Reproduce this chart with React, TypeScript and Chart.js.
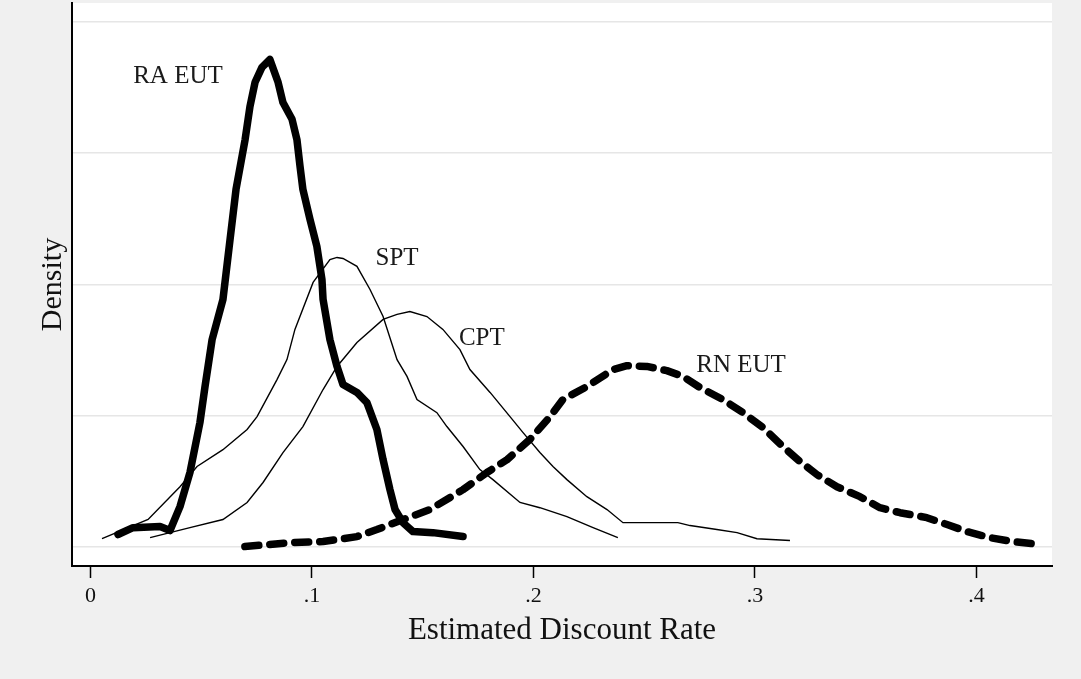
import React, { useEffect, useRef } from "react";
import { Chart, registerables } from "chart.js";

Chart.register(...registerables);

const FONT = "'Liberation Serif', 'DejaVu Serif', serif";

const xTickValues = [0, 0.1, 0.2, 0.3, 0.4];
const xTickLabels = ["0", ".1", ".2", ".3", ".4"];
const yGridValues = [0, 5, 10, 15, 20];

const raEutX = [0.0124, 0.0192, 0.0314, 0.0359, 0.0404, 0.0449, 0.0494, 0.0517, 0.0549, 0.0598, 0.063, 0.0657, 0.0698, 0.072, 0.0743, 0.0774, 0.081, 0.0847, 0.0869, 0.091, 0.0932, 0.0946, 0.0959, 0.0991, 0.1022, 0.1045, 0.105, 0.1081, 0.1113, 0.114, 0.1203, 0.1248, 0.1293, 0.1321, 0.1352, 0.1375, 0.1411, 0.1456, 0.1546, 0.1682];
const raEutY = [0.48, 0.74, 0.78, 0.63, 1.54, 2.84, 4.74, 6.11, 7.9, 9.43, 11.71, 13.62, 15.52, 16.78, 17.7, 18.27, 18.57, 17.7, 16.93, 16.29, 15.52, 14.5, 13.62, 12.48, 11.45, 10.19, 9.43, 7.9, 6.88, 6.19, 5.89, 5.5, 4.48, 3.33, 2.19, 1.43, 0.93, 0.59, 0.55, 0.4];

const sptX = [0.0052, 0.026, 0.0404, 0.0481, 0.0598, 0.0707, 0.0752, 0.0842, 0.0887, 0.0923, 0.1005, 0.1081, 0.1113, 0.114, 0.1203, 0.1262, 0.1321, 0.1384, 0.1429, 0.1474, 0.1564, 0.1609, 0.1682, 0.1758, 0.1817, 0.1939, 0.2029, 0.2151, 0.2269, 0.2381];
const sptY = [0.32, 1.05, 2.3, 3.07, 3.71, 4.48, 4.97, 6.38, 7.14, 8.29, 10.08, 10.95, 11.03, 10.99, 10.69, 9.81, 8.78, 7.14, 6.5, 5.62, 5.12, 4.59, 3.83, 2.95, 2.57, 1.7, 1.5, 1.16, 0.74, 0.36];

const cptX = [0.0269, 0.0359, 0.0449, 0.0598, 0.0707, 0.0779, 0.0869, 0.0959, 0.105, 0.1113, 0.1203, 0.1321, 0.1384, 0.1442, 0.1519, 0.1591, 0.1668, 0.1713, 0.1804, 0.1894, 0.1953, 0.2029, 0.2088, 0.2151, 0.2241, 0.2332, 0.2404, 0.2652, 0.2707, 0.2828, 0.2919, 0.3009, 0.3158];
const cptY = [0.36, 0.55, 0.74, 1.05, 1.7, 2.46, 3.6, 4.59, 6.0, 6.88, 7.79, 8.67, 8.86, 8.97, 8.78, 8.29, 7.52, 6.76, 5.89, 4.97, 4.36, 3.6, 3.07, 2.57, 1.92, 1.43, 0.93, 0.93, 0.82, 0.67, 0.55, 0.32, 0.25];

const rnEutX = [0.0697, 0.0901, 0.105, 0.1203, 0.1293, 0.1411, 0.1533, 0.1682, 0.179, 0.1881, 0.1984, 0.2075, 0.2133, 0.2241, 0.2359, 0.2422, 0.2512, 0.2602, 0.2675, 0.2751, 0.2855, 0.2946, 0.3036, 0.3126, 0.3203, 0.328, 0.337, 0.3474, 0.3564, 0.3655, 0.3776, 0.3867, 0.3957, 0.4061, 0.4165, 0.4287];
const rnEutY = [0.02, 0.17, 0.21, 0.4, 0.67, 1.05, 1.43, 2.19, 2.84, 3.33, 4.1, 4.97, 5.62, 6.11, 6.76, 6.91, 6.88, 6.72, 6.5, 6.08, 5.62, 5.12, 4.55, 3.83, 3.26, 2.76, 2.3, 1.92, 1.5, 1.31, 1.12, 0.86, 0.59, 0.36, 0.21, 0.1];

const curveLabels = ["RA EUT", "SPT", "CPT", "RN EUT"];
const curveLabelX = [0.0395, 0.1384, 0.1767, 0.2937];
const curveLabelY = [17.94, 10.99, 7.94, 6.91];

const pts = (xs: number[], ys: number[]) => xs.map((x, i) => ({ x, y: ys[i] }));

const bgPlugin = {
  id: "bgPlugin",
  beforeDraw(chart: any) {
    const { ctx, chartArea, width, height } = chart;
    ctx.save();
    ctx.fillStyle = "#f0f0f0";
    ctx.fillRect(0, 0, width, height);
    ctx.fillStyle = "#ffffff";
    ctx.fillRect(chartArea.left, chartArea.top, chartArea.right - chartArea.left, chartArea.bottom - chartArea.top);
    ctx.restore();
  },
};

const labelPlugin = {
  id: "labelPlugin",
  afterDatasetsDraw(chart: any) {
    const { ctx, scales } = chart;
    ctx.save();
    ctx.font = `25px ${FONT}`;
    ctx.fillStyle = "#1a1a1a";
    ctx.textAlign = "center";
    ctx.textBaseline = "middle";
    curveLabels.forEach((t, i) => {
      ctx.fillText(t, scales.x.getPixelForValue(curveLabelX[i]), scales.y.getPixelForValue(curveLabelY[i]));
    });
    ctx.restore();
  },
};

export default function App() {
  const ref = useRef<HTMLCanvasElement | null>(null);
  useEffect(() => {
    document.body.style.margin = "0";
    document.body.style.background = "#f0f0f0";
    const canvas = ref.current!;
    const thin = { borderColor: "#000", borderWidth: 1.4, pointRadius: 0, tension: 0, fill: false };
    const chart = new Chart(canvas, {
      type: "line",
      data: {
        datasets: [
          { label: "SPT", data: pts(sptX, sptY), ...thin },
          { label: "CPT", data: pts(cptX, cptY), ...thin },
          {
            label: "RN EUT",
            data: pts(rnEutX, rnEutY),
            borderColor: "#000",
            borderWidth: 7.5,
            borderDash: [14, 11],
            borderCapStyle: "round",
            borderJoinStyle: "round",
            pointRadius: 0,
            tension: 0,
            fill: false,
          },
          {
            label: "RA EUT",
            data: pts(raEutX, raEutY),
            borderColor: "#000",
            borderWidth: 7.5,
            borderCapStyle: "round",
            borderJoinStyle: "round",
            pointRadius: 0,
            tension: 0,
            fill: false,
          },
        ],
      },
      options: {
        animation: false,
        responsive: false,
        maintainAspectRatio: false,
        devicePixelRatio: 1,
        layout: { padding: { top: 3, right: 29, left: 0, bottom: 0 } },
        plugins: { legend: { display: false }, tooltip: { enabled: false } },
        events: [],
        scales: {
          x: {
            type: "linear",
            min: -0.00835,
            max: 0.4341,
            afterBuildTicks: (s: any) => {
              s.ticks = xTickValues.map((v) => ({ value: v }));
            },
            afterFit: (s: any) => {
              s.height = 113;
            },
            grid: { drawOnChartArea: false, drawTicks: true, tickLength: 12, tickColor: "#000", tickWidth: 1.5, color: "#000" },
            border: { display: true, color: "#000", width: 2 },
            ticks: {
              color: "#111",
              font: { family: FONT, size: 22 },
              padding: 5,
              maxRotation: 0,
              autoSkip: false,
              callback: (v: any) => {
                const i = xTickValues.findIndex((t) => Math.abs(t - Number(v)) < 1e-9);
                return i >= 0 ? xTickLabels[i] : "";
              },
            },
            title: {
              display: true,
              text: "Estimated Discount Rate",
              color: "#111",
              font: { family: FONT, size: 31 },
              padding: { top: 0, bottom: 30 },
            },
          },
          y: {
            type: "linear",
            min: -0.72,
            max: 20.72,
            afterBuildTicks: (s: any) => {
              s.ticks = yGridValues.map((v) => ({ value: v }));
            },
            afterFit: (s: any) => {
              s.width = 72;
            },
            grid: { drawTicks: false, color: "#e6e6e6", lineWidth: 1.5 },
            border: { display: true, color: "#000", width: 2 },
            ticks: { display: false },
            title: {
              display: true,
              text: "Density",
              color: "#111",
              font: { family: FONT, size: 30 },
              padding: { top: 35, bottom: 0 },
            },
          },
        },
      },
      plugins: [bgPlugin, labelPlugin],
    } as any);
    return () => chart.destroy();
  }, []);
  return (
    <div style={{ width: 1081, height: 679, background: "#f0f0f0" }}>
      <canvas ref={ref} width={1081} height={679} style={{ display: "block", width: 1081, height: 679 }} />
    </div>
  );
}
